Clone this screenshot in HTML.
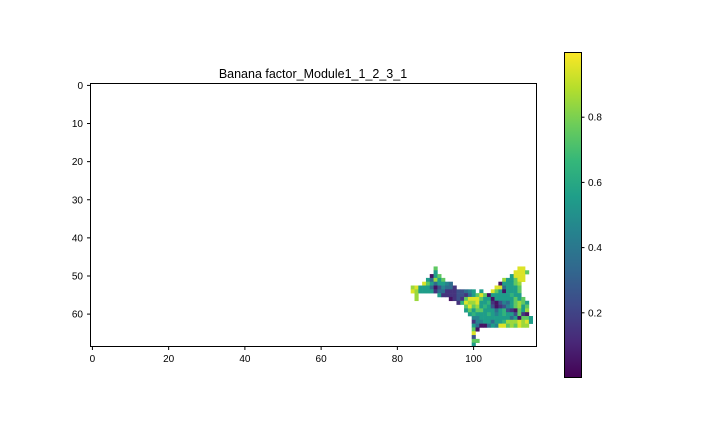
<!DOCTYPE html>
<html><head><meta charset="utf-8"><style>
html,body{margin:0;padding:0;background:#fff;}
svg text{font-family:"Liberation Sans","DejaVu Sans",sans-serif;}
</style></head><body>
<svg id="chart" width="720" height="432" viewBox="0 0 720 432" xmlns="http://www.w3.org/2000/svg">
<rect width="720" height="432" fill="#fff"/>
<text x="313" y="78" font-size="12.5" text-anchor="middle">Banana factor_Module1_1_2_3_1</text>
<g id="cells"></g>
<rect x="90.5" y="83.5" width="446" height="263" fill="none" stroke="#000" stroke-width="1"/>
<g id="xticks"></g>
<g id="yticks"></g>
<defs><linearGradient id="vir" x1="0" y1="1" x2="0" y2="0"></linearGradient></defs>
<rect x="564" y="52" width="17" height="326" fill="url(#vir)"/>
<rect x="564.5" y="52.5" width="17" height="325" fill="none" stroke="#000" stroke-width="1"/>
<g id="cbticks"></g>
</svg>
<script>
const xTickLabels=[0,20,40,60,80,100];
const yTickLabels=[0,10,20,30,40,50,60];
const cbTickLabels=[0.2,0.4,0.6,0.8];
const nCols=117, nRows=69;
const gridStartCol=84;
const gridStartRow=48;
const gridRows=[
"......7.....................99...",
"......5....................9997..",
".....057..................5999...",
"....53857...............855799...",
"...97535543............055578....",
"895553024331..........9935557....",
"98555513311122345.5..97505557....",
".8.....5111122135797055555655....",
".8........01217999755055555757...",
"............1698895561024357875..",
"..............79785652012457857..",
"..............57577555356210758..",
"...............5655565456552710..",
"................4455555555350775.",
"................1445535568889895.",
"................530035499787988..",
"................70...............",
"................9................",
"................2................",
"................77...............",
"................5................"
];
const vmin=0.0, vmax=1.0;
const ns="http://www.w3.org/2000/svg";
const vir=[[68,1,84],[72,40,120],[62,74,137],[49,104,142],[38,130,142],[31,158,137],[53,183,121],[109,205,89],[180,222,44],[253,231,37]];
function viridis(t){t=Math.max(0,Math.min(1,t));const f=t*9,i=Math.min(8,Math.floor(f)),u=f-i;const a=vir[i],b=vir[i+1];return `rgb(${Math.round(a[0]+(b[0]-a[0])*u)},${Math.round(a[1]+(b[1]-a[1])*u)},${Math.round(a[2]+(b[2]-a[2])*u)})`;}
const x0=90.5,y0=83.5,W=446,H=263;
function xs(c){return x0+(c+0.5)*W/nCols;}
function ys(r){return y0+(r+0.5)*H/nRows;}
const cw=W/nCols, ch=H/nRows;
const cells=document.getElementById('cells');
gridRows.forEach((row,ri)=>{
  for(let i=0;i<row.length;i++){
    const ch0=row[i]; if(ch0==='.') continue;
    const v=(+ch0+0.5)/10;
    const c=gridStartCol+i, r=gridStartRow+ri;
    const rc=document.createElementNS(ns,'rect');
    
    
    rc.setAttribute('x',xs(c)-cw/2);rc.setAttribute('y',ys(r)-ch/2);
    rc.setAttribute('width',cw+0.3);rc.setAttribute('height',ch+0.3);
    rc.setAttribute('fill',viridis((v-vmin)/(vmax-vmin)));
    cells.appendChild(rc);
  }
});
const xt=document.getElementById('xticks');
xTickLabels.forEach(v=>{
  const x=xs(v);
  const l=document.createElementNS(ns,'line');
  
  
  l.setAttribute('x1',x);l.setAttribute('x2',x);l.setAttribute('y1',346.5);l.setAttribute('y2',350);l.setAttribute('stroke','#000');
  xt.appendChild(l);
  const t=document.createElementNS(ns,'text');
  
  
  t.setAttribute('x',x);t.setAttribute('y',362);t.setAttribute('font-size','10');t.setAttribute('text-anchor','middle');
  t.textContent=v;xt.appendChild(t);
});
const yt=document.getElementById('yticks');
yTickLabels.forEach(v=>{
  const y=ys(v);
  const l=document.createElementNS(ns,'line');
  
  
  l.setAttribute('x1',87);l.setAttribute('x2',90.5);l.setAttribute('y1',y);l.setAttribute('y2',y);l.setAttribute('stroke','#000');
  yt.appendChild(l);
  const t=document.createElementNS(ns,'text');
  
  
  t.setAttribute('x',83);t.setAttribute('y',y+3.5);t.setAttribute('font-size','10');t.setAttribute('text-anchor','end');
  t.textContent=v;yt.appendChild(t);
});
const grad=document.getElementById('vir');
vir.forEach((c,i)=>{const s=document.createElementNS(ns,'stop');s.setAttribute('offset',i/9);s.setAttribute('stop-color',`rgb(${c[0]},${c[1]},${c[2]})`);grad.appendChild(s);});
const cb=document.getElementById('cbticks');
function cy(v){return 378-(v-vmin)/(vmax-vmin)*326;}
cbTickLabels.forEach(v=>{
  const y=cy(v);
  const l=document.createElementNS(ns,'line');
  
  
  l.setAttribute('x1',581);l.setAttribute('x2',584.5);l.setAttribute('y1',y);l.setAttribute('y2',y);l.setAttribute('stroke','#000');
  cb.appendChild(l);
  const t=document.createElementNS(ns,'text');
  
  
  t.setAttribute('x',588);t.setAttribute('y',y+3.5);t.setAttribute('font-size','10');
  t.textContent=v.toFixed(1);cb.appendChild(t);
});
</script>
</body></html>
